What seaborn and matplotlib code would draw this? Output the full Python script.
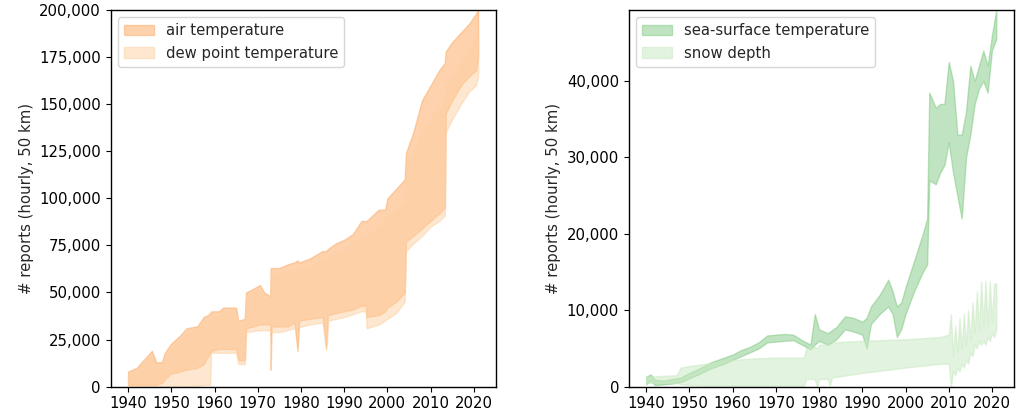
import matplotlib
matplotlib.use("Agg")
import matplotlib.pyplot as plt
import matplotlib.ticker as mticker
import seaborn as sns

# Report counts (thousands), as lower/upper envelopes
at_years = [1940.0, 1942.0, 1943.5, 1945.5, 1946.5, 1947.8, 1948.5, 1950.0, 1952.0, 1953.5,
            1956.0, 1957.5, 1958.5, 1959.3, 1961.0, 1962.0, 1965.0, 1965.5, 1967.0, 1967.3,
            1969.0, 1970.5, 1971.5, 1972.9, 1973.0, 1973.2, 1975.0, 1977.0, 1978.5, 1979.2,
            1979.6, 1982.0, 1985.0, 1985.8, 1986.2, 1988.0, 1990.0, 1992.0, 1994.0, 1995.0,
            1995.2, 1998.0, 1999.5, 2000.0, 2002.0, 2004.0, 2004.3, 2006.0, 2008.0, 2010.0,
            2012.0, 2013.3, 2013.5, 2015.0, 2017.0, 2019.0, 2020.5, 2021.0]
at_low = [1, 1, 1, 1, 1, 2, 4, 7, 8, 9,
          10, 12, 16, 19, 20, 20, 20, 14, 14, 31,
          32, 33, 33, 33, 9, 32, 32, 32, 34, 19,
          35, 36, 37, 20, 38, 39, 40, 41, 43, 43,
          37, 38, 40, 42, 45, 50, 77, 80, 84, 88,
          92, 95, 145, 152, 160, 165, 168, 175]
at_high = [8, 10, 14, 19, 13, 13, 18, 23, 27, 31,
           32, 37, 38, 40, 40, 42, 42, 35, 36, 50,
           52, 54, 50, 48, 63, 63, 63, 65, 66, 67,
           66, 68, 72, 72, 73, 76, 78, 81, 88, 88,
           88, 94, 94, 100, 105, 110, 124, 135, 152, 160,
           168, 172, 178, 183, 188, 193, 198, 200]

dp_years = [1940.0, 1942.0, 1943.5, 1945.5, 1946.5, 1947.8, 1950.0, 1952.0, 1953.5, 1956.0,
            1957.5, 1959.0, 1959.2, 1961.0, 1962.0, 1965.0, 1965.5, 1967.0, 1967.3, 1970.5,
            1971.5, 1972.9, 1973.0, 1975.0, 1978.5, 1982.0, 1985.0, 1986.0, 1986.3, 1990.0,
            1994.0, 1995.0, 1995.2, 1998.0, 2000.0, 2002.0, 2004.0, 2004.3, 2006.0, 2008.0,
            2010.0, 2012.0, 2013.3, 2013.5, 2015.0, 2017.0, 2019.0, 2020.5, 2021.0]
dp_low = [0, 0, 0, 0, 0, 0, 0, 0, 0, 0.5,
          1, 1, 18, 18, 18, 18, 12, 12, 29, 30,
          30, 30, 29, 29, 31, 33, 34, 22, 35, 37,
          40, 40, 31, 33, 36, 39, 45, 72, 76, 80,
          85, 88, 91, 135, 142, 150, 157, 160, 165]
dp_high = [6, 8, 12, 16, 11, 11, 20, 24, 28, 30,
           35, 36, 37, 38, 40, 40, 33, 34, 48, 51,
           48, 46, 60, 60, 62, 64, 68, 68, 69, 72,
           80, 80, 80, 85, 90, 94, 98, 118, 124, 135,
           142, 148, 151, 160, 165, 172, 180, 185, 186]

sst_years = [1940.0, 1941.0, 1942.0, 1944.0, 1946.0, 1948.0, 1950.0, 1952.0, 1955.0, 1958.0,
             1960.0, 1962.0, 1964.0, 1966.0, 1968.0, 1970.0, 1972.0, 1974.0, 1976.0, 1978.0,
             1979.0, 1980.0, 1982.0, 1984.0, 1986.0, 1988.0, 1990.0, 1991.0, 1992.0, 1994.0,
             1996.0, 1997.0, 1998.0, 1999.0, 2000.0, 2002.0, 2004.0, 2005.0, 2005.5, 2007.0,
             2008.0, 2009.0, 2010.0, 2011.0, 2012.0, 2013.0, 2014.0, 2015.0, 2016.0, 2017.0,
             2018.0, 2019.0, 2020.0, 2021.0]
sst_low = [0.3, 0.8, 0.2, 0.3, 0.4, 0.6, 1.1, 1.6, 2.4, 3.0,
           3.5, 4.0, 4.5, 5.0, 5.8, 5.9, 6.0, 6.1, 5.5, 4.9,
           5.5, 6.0, 5.5, 6.2, 7.5, 7.2, 6.8, 5.0, 8.2, 9.5,
           10.5, 9.5, 6.5, 7.5, 9.5, 12.5, 15.0, 16.0, 27.0, 26.5,
           28.0, 29.0, 32.0, 28.0, 25.0, 22.0, 30.0, 33.0, 37.0, 39.0,
           40.0, 38.5, 44.0, 45.5]
sst_high = [1.3, 1.6, 0.9, 0.8, 1.0, 1.2, 1.8, 2.3, 3.2, 3.8,
            4.2, 4.8, 5.2, 5.8, 6.7, 6.8, 6.9, 6.8, 6.1, 5.5,
            9.5, 7.5, 7.0, 7.8, 9.2, 9.0, 8.5, 9.0, 10.5, 12.0,
            14.0, 12.5, 10.5, 11.0, 13.0, 16.5, 20.0, 22.0, 38.5, 36.5,
            37.0, 37.0, 42.5, 40.0, 33.0, 33.0, 36.0, 42.0, 40.0, 42.0,
            44.0, 42.0, 46.0, 49.3]

sd_years = [1940.0, 1947.0, 1948.0, 1950.0, 1955.0, 1960.0, 1965.0, 1970.0, 1976.5, 1977.0,
            1979.0, 1979.5, 1980.0, 1982.0, 1982.5, 1983.0, 1990.0, 2000.0, 2008.0, 2010.0,
            2010.5, 2011.0, 2011.5, 2012.0, 2012.5, 2013.0, 2013.5, 2014.0, 2014.5, 2015.0,
            2015.5, 2016.0, 2016.5, 2017.0, 2017.5, 2018.0, 2018.5, 2019.0, 2019.5, 2020.0,
            2020.5, 2021.0]
sd_low = [0.5, 0.5, 0.3, 0.2, 0.1, 0.1, 0.1, 0.1, 0.1, 1.0,
          1.0, 0.0, 1.0, 1.0, 0.2, 1.2, 1.8, 2.5, 3.0, 3.0,
          0.0, 2.0, 1.5, 2.5, 2.0, 3.0, 2.5, 3.5, 3.0, 4.5,
          4.0, 5.5, 5.0, 6.0, 5.5, 6.0, 5.5, 6.5, 6.0, 7.0,
          6.5, 7.5]
sd_high = [1.3, 1.5, 2.5, 2.7, 3.1, 3.5, 3.7, 3.8, 3.8, 5.0,
           5.2, 5.0, 5.5, 5.5, 5.5, 5.8, 6.0, 6.2, 6.5, 6.8,
           9.5, 4.0, 8.0, 4.5, 9.0, 5.0, 9.5, 5.5, 10.0, 6.0,
           11.0, 7.0, 12.5, 7.5, 13.8, 8.0, 13.8, 8.0, 13.8, 8.5,
           13.5, 13.5]

labels_left = ["air temperature", "dew point temperature"]
labels_right = ["sea-surface temperature", "snow depth"]

sns.set_style("ticks")
plt.rcParams["font.family"] = ["DejaVu Sans"]
plt.rcParams["font.size"] = 10.7

fig = plt.figure(figsize=(10.24, 4.18), dpi=100)
ax1 = fig.add_axes([0.108, 0.075, 0.376, 0.901])
ax2 = fig.add_axes([0.614, 0.075, 0.376, 0.901])

# left panel: air and dew point temperature
ax1.fill_between(at_years, [v * 1000 for v in at_low], [v * 1000 for v in at_high],
                 color="#fdae6b", alpha=0.55, linewidth=1, label=labels_left[0])
ax1.fill_between(dp_years, [v * 1000 for v in dp_low], [v * 1000 for v in dp_high],
                 color="#fdd0a2", alpha=0.5, linewidth=1, label=labels_left[1])
ax1.set_ylim(0, 200000)
ax1.set_yticks(range(0, 200001, 25000))

# right panel: sea-surface temperature and snow depth
ax2.fill_between(sst_years, [v * 1000 for v in sst_low], [v * 1000 for v in sst_high],
                 color="#74c476", alpha=0.45, linewidth=1, label=labels_right[0])
ax2.fill_between(sd_years, [v * 1000 for v in sd_low], [v * 1000 for v in sd_high],
                 color="#c7e9c0", alpha=0.5, linewidth=1, label=labels_right[1])
ax2.set_ylim(0, 49300)
ax2.set_yticks(range(0, 40001, 10000))

for ax in (ax1, ax2):
    ax.set_xticks(range(1940, 2021, 10))
    ax.yaxis.set_major_formatter(mticker.StrMethodFormatter("{x:,.0f}"))
    ax.set_ylabel("# reports (hourly, 50 km)")
    ax.legend(loc="upper left")
    for s in ax.spines.values():
        s.set_visible(True)
        s.set_color("black")
        s.set_linewidth(1)
    ax.tick_params(colors="black", labelcolor="black")

fig.savefig("out.png", dpi=100)
